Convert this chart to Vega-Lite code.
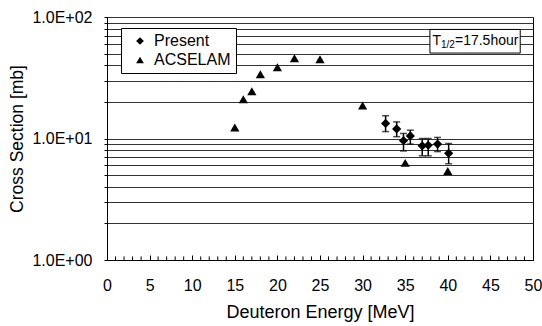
{
  "$schema": "https://vega.github.io/schema/vega-lite/v6.json",
  "width": 426,
  "height": 243,
  "autosize": "none",
  "padding": {"left": 107, "top": 17, "right": 9, "bottom": 66},
  "background": "white",
  "config": {
    "font": "Liberation Sans",
    "view": {"stroke": "black", "strokeWidth": 1}
  },
  "datasets": {
    "pts": [
      {"series": "ACSELAM", "E": 15, "v": 12.3},
      {"series": "ACSELAM", "E": 16, "v": 21.0},
      {"series": "ACSELAM", "E": 17, "v": 24.5},
      {"series": "ACSELAM", "E": 18, "v": 33.8},
      {"series": "ACSELAM", "E": 20, "v": 38.6},
      {"series": "ACSELAM", "E": 22, "v": 45.8},
      {"series": "ACSELAM", "E": 25, "v": 45.0},
      {"series": "ACSELAM", "E": 30, "v": 18.7},
      {"series": "ACSELAM", "E": 35, "v": 6.3},
      {"series": "ACSELAM", "E": 40, "v": 5.4},
      {"series": "Present", "E": 32.7, "v": 13.3, "lo": 11.4, "hi": 15.4},
      {"series": "Present", "E": 34.0, "v": 12.0, "lo": 10.35, "hi": 13.7},
      {"series": "Present", "E": 34.8, "v": 9.6, "lo": 7.9, "hi": 11.0},
      {"series": "Present", "E": 35.6, "v": 10.5, "lo": 9.0, "hi": 11.7},
      {"series": "Present", "E": 37.0, "v": 8.7, "lo": 7.2, "hi": 10.0},
      {"series": "Present", "E": 37.7, "v": 8.8, "lo": 7.2, "hi": 10.0},
      {"series": "Present", "E": 38.8, "v": 9.0, "lo": 7.8, "hi": 10.2},
      {"series": "Present", "E": 40.1, "v": 7.55, "lo": 6.2, "hi": 9.1}
    ],
    "minor": [
      {"E": 1}, {"E": 2}, {"E": 3}, {"E": 4}, {"E": 6}, {"E": 7}, {"E": 8}, {"E": 9},
      {"E": 11}, {"E": 12}, {"E": 13}, {"E": 14}, {"E": 16}, {"E": 17}, {"E": 18}, {"E": 19},
      {"E": 21}, {"E": 22}, {"E": 23}, {"E": 24}, {"E": 26}, {"E": 27}, {"E": 28}, {"E": 29},
      {"E": 31}, {"E": 32}, {"E": 33}, {"E": 34}, {"E": 36}, {"E": 37}, {"E": 38}, {"E": 39},
      {"E": 41}, {"E": 42}, {"E": 43}, {"E": 44}, {"E": 46}, {"E": 47}, {"E": 48}, {"E": 49}
    ],
    "note": [
      {"x1": 37.9, "x2": 48.5, "y1": 50.5, "y2": 79, "tx": 38.2, "ty": 64}
    ]
  },
  "layer": [
    {
      "data": {"name": "minor"},
      "mark": {"type": "rule", "color": "black", "strokeWidth": 1},
      "encoding": {
        "x": {"field": "E", "type": "quantitative"},
        "y": {"datum": 1},
        "y2": {"datum": 1.07}
      }
    },
    {
      "data": {"name": "pts"},
      "transform": [{"filter": "datum.series === 'Present'"}],
      "mark": {"type": "rule", "color": "black", "strokeWidth": 1.5},
      "encoding": {
        "x": {"field": "E", "type": "quantitative"},
        "y": {"field": "lo", "type": "quantitative"},
        "y2": {"field": "hi"}
      }
    },
    {
      "data": {"name": "pts"},
      "transform": [{"filter": "datum.series === 'Present'"}],
      "mark": {"type": "tick", "orient": "horizontal", "color": "black", "size": 7, "thickness": 1.5},
      "encoding": {
        "x": {"field": "E", "type": "quantitative"},
        "y": {"field": "lo", "type": "quantitative"}
      }
    },
    {
      "data": {"name": "pts"},
      "transform": [{"filter": "datum.series === 'Present'"}],
      "mark": {"type": "tick", "orient": "horizontal", "color": "black", "size": 7, "thickness": 1.5},
      "encoding": {
        "x": {"field": "E", "type": "quantitative"},
        "y": {"field": "hi", "type": "quantitative"}
      }
    },
    {
      "data": {"name": "pts"},
      "mark": {"type": "point", "filled": true, "opacity": 1, "size": 85},
      "encoding": {
        "x": {
          "field": "E", "type": "quantitative",
          "scale": {"domain": [0, 50], "nice": false},
          "axis": {
            "title": "Deuteron Energy [MeV]",
            "values": [0, 5, 10, 15, 20, 25, 30, 35, 40, 45, 50],
            "grid": false,
            "domainColor": "black",
            "tickColor": "black",
            "tickSize": -5,
            "labelPadding": 22,
            "labelFontSize": 16,
            "labelColor": "black",
            "labelFlush": false,
            "labelOverlap": false,
            "titleFontSize": 18,
            "titleFontWeight": "normal",
            "titleColor": "black",
            "titlePadding": 10
          }
        },
        "y": {
          "field": "v", "type": "quantitative",
          "scale": {"type": "log", "domain": [1, 100], "nice": false},
          "axis": {
            "title": "Cross Section [mb]",
            "values": [1,2,3,4,5,6,7,8,9,10,20,30,40,50,60,70,80,90,100],
            "labelExpr": "datum.value === 1 ? '1.0E+00' : datum.value === 10 ? '1.0E+01' : datum.value === 100 ? '1.0E+02' : ''",
            "labelOverlap": false,
            "grid": true,
            "gridColor": "#333333",
            "gridWidth": 1,
            "gridOpacity": 1,
            "domainColor": "black",
            "tickColor": "black",
            "tickSize": 3,
            "labelPadding": 12,
            "labelFontSize": 16,
            "labelColor": "black",
            "labelFlush": false,
            "titleFontSize": 17.5,
            "titleFontWeight": "normal",
            "titleColor": "black",
            "titlePadding": 5
          }
        },
        "shape": {
          "field": "series", "type": "nominal",
          "scale": {"domain": ["Present", "ACSELAM"], "range": ["diamond", "triangle-up"]},
          "legend": {
            "title": null,
            "orient": "none",
            "legendX": 14,
            "legendY": 11,
            "strokeColor": "black",
            "fillColor": "white",
            "padding": 5,
            "labelFontSize": 16,
            "labelColor": "black",
            "symbolFillColor": "black",
            "symbolStrokeColor": "black",
            "symbolSize": 60,
            "rowPadding": 3,
            "labelOffset": 6,
            "symbolOffset": 6
          }
        },
        "color": {"value": "black"}
      }
    },
    {
      "data": {"name": "note"},
      "mark": {"type": "rect", "fill": "white", "stroke": "black", "strokeWidth": 1},
      "encoding": {
        "x": {"field": "x1", "type": "quantitative"},
        "x2": {"field": "x2"},
        "y": {"field": "y1", "type": "quantitative"},
        "y2": {"field": "y2"}
      }
    },
    {
      "data": {"name": "note"},
      "mark": {"type": "text", "text": "T", "align": "left", "baseline": "middle", "fontSize": 14, "color": "black"},
      "encoding": {
        "x": {"field": "tx", "type": "quantitative"},
        "y": {"field": "ty", "type": "quantitative"}
      }
    },
    {
      "data": {"name": "note"},
      "mark": {"type": "text", "text": "1/2", "align": "left", "baseline": "middle", "fontSize": 10, "dx": 8.5, "dy": 4, "color": "black"},
      "encoding": {
        "x": {"field": "tx", "type": "quantitative"},
        "y": {"field": "ty", "type": "quantitative"}
      }
    },
    {
      "data": {"name": "note"},
      "mark": {"type": "text", "text": "=17.5hour", "align": "left", "baseline": "middle", "fontSize": 14, "dx": 22.5, "color": "black"},
      "encoding": {
        "x": {"field": "tx", "type": "quantitative"},
        "y": {"field": "ty", "type": "quantitative"}
      }
    }
  ]
}
